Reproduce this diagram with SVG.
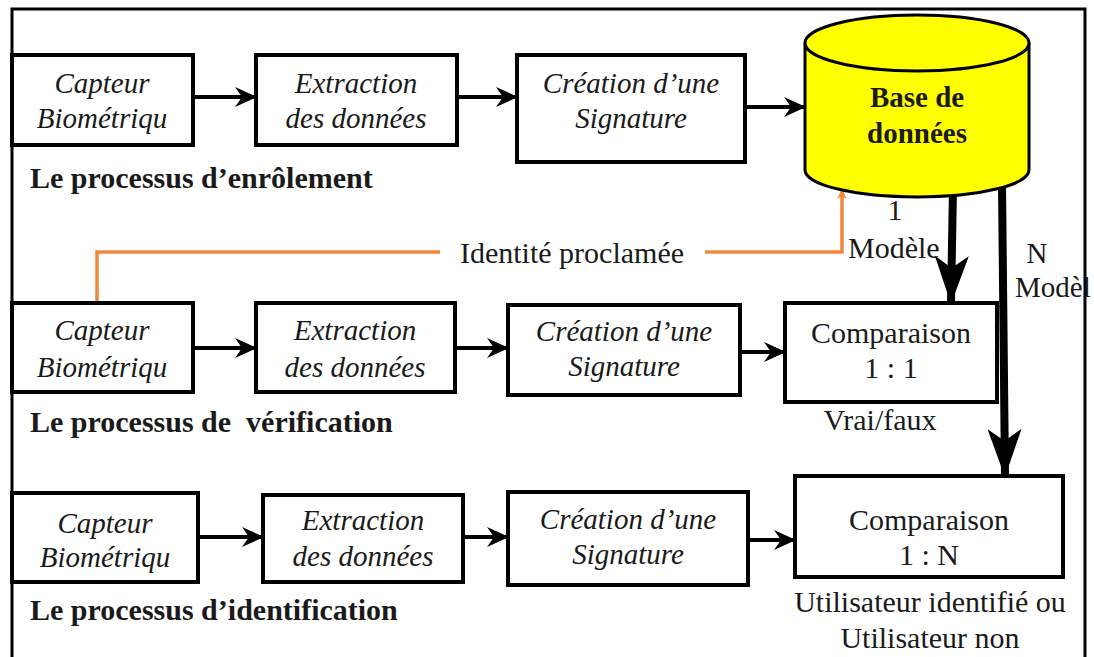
<svg xmlns="http://www.w3.org/2000/svg" width="1094" height="657" viewBox="0 0 1094 657">
<style>
.box{fill:#fff;stroke:#000;stroke-width:4}
.it{font-family:"Liberation Serif",serif;font-style:italic;font-size:29px;fill:#1a1a1a;text-anchor:middle}
.rg{font-family:"Liberation Serif",serif;font-size:30px;fill:#1a1a1a;text-anchor:middle}
.bd{font-family:"Liberation Serif",serif;font-weight:bold;font-size:30px;fill:#1a1a1a}
.ln{stroke:#000;stroke-width:4;fill:none;marker-end:url(#ah)}
.tk{stroke:#000;stroke-width:8;fill:none;marker-end:url(#ahb)}
.or{stroke:#F0883E;stroke-width:3.5;fill:none}
</style>
<defs>
<marker id="ah" markerUnits="userSpaceOnUse" viewBox="0 0 22 20" markerWidth="22" markerHeight="20" refX="21" refY="10" orient="auto">
<path d="M0,0 L22,10 L0,20 L7,10 Z" fill="#000"/>
</marker>
<marker id="ahb" markerUnits="userSpaceOnUse" viewBox="0 0 48 34" markerWidth="48" markerHeight="34" refX="47" refY="17" orient="auto">
<path d="M0,0 L48,17 L0,34 L12,17 Z" fill="#000"/>
</marker>
<marker id="aho" markerUnits="userSpaceOnUse" viewBox="0 0 10 10" markerWidth="10" markerHeight="10" refX="9" refY="5" orient="auto">
<path d="M0,0 L10,5 L0,10 L3,5 Z" fill="#F0883E"/>
</marker>
</defs>
<rect width="1094" height="657" fill="#fff"/>
<path d="M12,657 V9 H1085 V657" fill="none" stroke="#000" stroke-width="3"/>

<g id="connectors">
<line class="ln" x1="193" y1="97" x2="256" y2="97"/>
<line class="ln" x1="457" y1="97" x2="517" y2="97"/>
<line class="ln" x1="745" y1="107" x2="805" y2="107"/>
<line class="ln" x1="193" y1="348" x2="256" y2="348"/>
<line class="ln" x1="455" y1="348" x2="508" y2="348"/>
<line class="ln" x1="740" y1="352" x2="785" y2="352"/>
<line class="ln" x1="198" y1="537" x2="263" y2="537"/>
<line class="ln" x1="463" y1="537" x2="508" y2="537"/>
<line class="ln" x1="748" y1="540" x2="795" y2="540"/>
<path class="or" d="M97,303 V252 H440"/>
<path class="or" d="M705,252 H842 V190" marker-end="url(#aho)"/>
<line class="tk" x1="953" y1="188" x2="951" y2="303"/>
<line class="tk" x1="1002" y1="183" x2="1005" y2="476"/>
<text class="rg" x="572" y="263">Identité proclamée</text>
<text class="rg" x="895" y="220">1</text>
<text class="rg" x="848" y="258" style="text-anchor:start">Modèle</text>
<text class="rg" x="1037" y="263" style="font-size:29px">N</text>
<text class="rg" x="1015" y="297" style="text-anchor:start;font-size:29px">Modèl</text>
</g>

<g id="enrol-capteur"><rect class="box" x="12" y="55" width="181" height="90"/><text class="it" x="102" y="93">Capteur</text><text class="it" x="102" y="128">Biométriqu</text></g>
<g id="enrol-extraction"><rect class="box" x="256" y="55" width="201" height="90"/><text class="it" x="356" y="93">Extraction</text><text class="it" x="356" y="128">des données</text></g>
<g id="enrol-signature"><rect class="box" x="517" y="55" width="228" height="107"/><text class="it" x="631" y="93">Création d’une</text><text class="it" x="631" y="128">Signature</text></g>
<g id="database">
<path d="M805,43 V170 A112,27 0 0 0 1029,170 V43" fill="#FFFF00" stroke="#000" stroke-width="3"/>
<ellipse cx="917" cy="43" rx="112" ry="28" fill="#FFFF00" stroke="#000" stroke-width="3"/>
<text class="bd" x="917" y="107" text-anchor="middle" style="font-size:29px">Base de</text>
<text class="bd" x="917" y="143" text-anchor="middle" style="font-size:29px">données</text>
</g>
<g id="label-enrol"><text class="bd" x="30" y="188">Le processus d’enrôlement</text></g>

<g id="verif-capteur"><rect class="box" x="12" y="303" width="181" height="89"/><text class="it" x="102" y="340">Capteur</text><text class="it" x="102" y="377">Biométriqu</text></g>
<g id="verif-extraction"><rect class="box" x="256" y="303" width="199" height="89"/><text class="it" x="355" y="340">Extraction</text><text class="it" x="355" y="377">des données</text></g>
<g id="verif-signature"><rect class="box" x="508" y="305" width="232" height="90"/><text class="it" x="624" y="341">Création d’une</text><text class="it" x="624" y="376">Signature</text></g>
<g id="verif-comparaison"><rect class="box" x="785" y="303" width="212" height="99"/><text class="rg" x="891" y="343">Comparaison</text><text class="rg" x="891" y="378">1 : 1</text><text class="rg" x="880" y="430">Vrai/faux</text></g>
<g id="label-verif"><text class="bd" x="30" y="432" xml:space="preserve">Le processus de  vérification</text></g>

<g id="ident-capteur"><rect class="box" x="12" y="493" width="186" height="89"/><text class="it" x="105" y="533">Capteur</text><text class="it" x="105" y="567">Biométriqu</text></g>
<g id="ident-extraction"><rect class="box" x="263" y="495" width="200" height="87"/><text class="it" x="363" y="530">Extraction</text><text class="it" x="363" y="566">des données</text></g>
<g id="ident-signature"><rect class="box" x="508" y="492" width="240" height="93"/><text class="it" x="628" y="529">Création d’une</text><text class="it" x="628" y="564">Signature</text></g>
<g id="ident-comparaison"><rect class="box" x="795" y="476" width="268" height="101"/><text class="rg" x="929" y="530">Comparaison</text><text class="rg" x="929" y="565">1 : N</text><text class="rg" x="930" y="612">Utilisateur identifié ou</text><text class="rg" x="930" y="648">Utilisateur non</text></g>
<g id="label-ident"><text class="bd" x="30" y="620">Le processus d’identification</text></g>
</svg>
